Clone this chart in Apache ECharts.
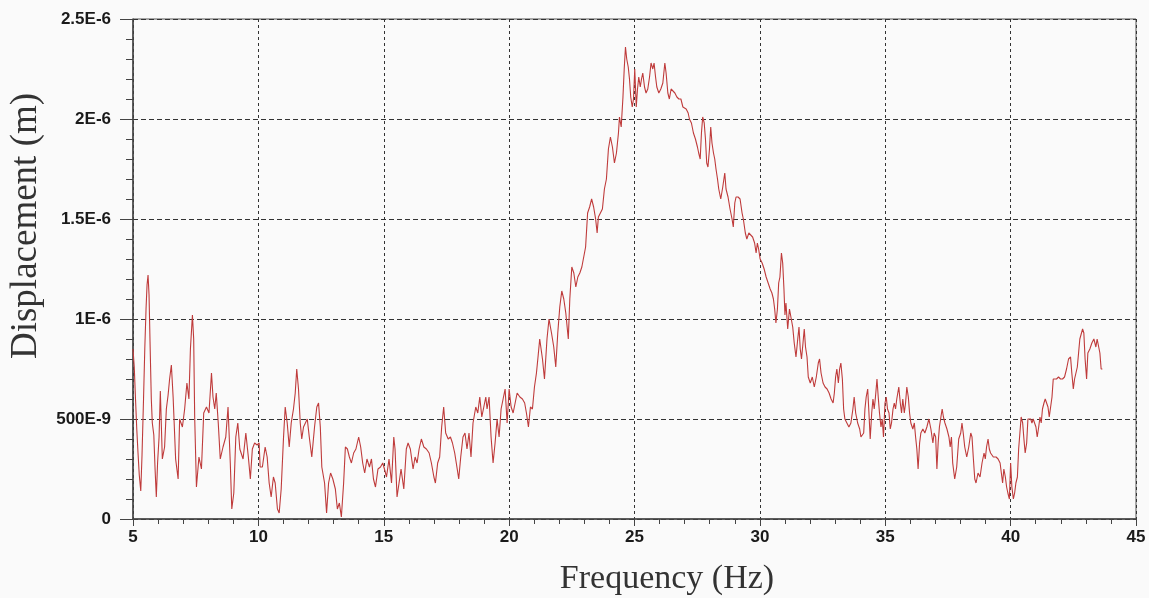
<!DOCTYPE html>
<html>
<head>
<meta charset="utf-8">
<title>Displacement vs Frequency</title>
<script src="https://cdn.jsdelivr.net/npm/echarts@6/dist/echarts.min.js"></script>
<style>
  html, body { margin: 0; padding: 0; background: #fafafa; }
  #main { width: 1149px; height: 598px; }
</style>
</head>
<body>
<div id="main"></div>
<script>
// frequency (Hz)
var freqHz = [
  5.00,5.05,5.10,5.15,5.20,5.25,5.31,5.36,5.42,5.47,
  5.52,5.56,5.60,5.64,5.68,5.73,5.77,5.83,5.88,5.93,
  5.98,6.04,6.09,6.17,6.26,6.33,6.40,6.46,6.53,6.60,
  6.70,6.80,6.86,6.97,7.06,7.15,7.23,7.29,7.37,7.42,
  7.46,7.53,7.63,7.73,7.82,7.93,8.03,8.13,8.19,8.26,
  8.32,8.40,8.48,8.59,8.70,8.79,8.88,8.94,9.02,9.10,
  9.18,9.26,9.39,9.50,9.60,9.68,9.76,9.85,9.95,10.03,
  10.07,10.16,10.27,10.35,10.43,10.51,10.60,10.67,10.76,10.83,
  10.91,11.00,11.07,11.15,11.23,11.31,11.40,11.47,11.53,11.60,
  11.67,11.73,11.80,11.87,11.95,12.03,12.13,12.24,12.33,12.40,
  12.47,12.53,12.64,12.72,12.80,12.88,12.97,13.07,13.15,13.23,
  13.31,13.40,13.47,13.55,13.63,13.71,13.80,13.89,14.00,14.08,
  14.16,14.24,14.33,14.43,14.51,14.59,14.67,14.77,14.87,14.96,
  15.05,15.11,15.21,15.31,15.40,15.45,15.53,15.61,15.69,15.80,
  15.90,15.97,16.06,16.17,16.25,16.33,16.41,16.50,16.60,16.70,
  16.81,16.90,17.00,17.06,17.15,17.23,17.31,17.39,17.47,17.57,
  17.66,17.74,17.83,17.93,17.99,18.07,18.16,18.24,18.32,18.40,
  18.48,18.56,18.67,18.75,18.83,18.91,18.99,19.07,19.12,19.20,
  19.28,19.36,19.44,19.52,19.60,19.68,19.76,19.84,19.92,20.00,
  20.08,20.16,20.24,20.32,20.43,20.53,20.62,20.69,20.77,20.85,
  20.93,21.01,21.09,21.16,21.22,21.33,21.41,21.51,21.59,21.69,
  21.78,21.86,21.94,22.02,22.10,22.18,22.26,22.36,22.42,22.50,
  22.58,22.66,22.74,22.82,22.90,22.97,23.05,23.13,23.21,23.29,
  23.37,23.45,23.51,23.56,23.64,23.72,23.80,23.88,23.96,24.04,
  24.12,24.20,24.28,24.36,24.40,24.47,24.54,24.59,24.64,24.69,
  24.75,24.80,24.85,24.91,24.96,25.01,25.07,25.12,25.17,25.23,
  25.28,25.33,25.40,25.46,25.53,25.60,25.66,25.73,25.78,25.84,
  25.89,25.97,26.05,26.13,26.21,26.26,26.33,26.39,26.46,26.53,
  26.61,26.69,26.77,26.85,26.93,26.99,27.06,27.14,27.19,27.27,
  27.35,27.43,27.51,27.56,27.62,27.67,27.72,27.78,27.83,27.88,
  27.93,27.99,28.04,28.09,28.15,28.20,28.25,28.31,28.36,28.44,
  28.52,28.60,28.65,28.73,28.81,28.89,28.94,29.00,29.05,29.13,
  29.21,29.29,29.34,29.42,29.48,29.56,29.63,29.71,29.79,29.85,
  29.90,29.95,30.01,30.09,30.17,30.25,30.33,30.41,30.48,30.54,
  30.59,30.64,30.70,30.75,30.80,30.86,30.91,30.96,31.00,31.04,
  31.11,31.18,31.24,31.31,31.37,31.44,31.51,31.56,31.61,31.66,
  31.72,31.77,31.82,31.88,31.93,32.01,32.09,32.17,32.25,32.33,
  32.38,32.44,32.52,32.60,32.68,32.76,32.84,32.92,32.97,33.02,
  33.07,33.13,33.18,33.23,33.29,33.34,33.39,33.47,33.55,33.63,
  33.71,33.76,33.82,33.90,33.98,34.03,34.08,34.14,34.19,34.24,
  34.30,34.35,34.40,34.46,34.51,34.56,34.61,34.67,34.72,34.77,
  34.83,34.88,34.93,34.99,35.04,35.09,35.15,35.20,35.25,35.31,
  35.36,35.41,35.46,35.54,35.60,35.65,35.70,35.76,35.81,35.86,
  35.92,35.97,36.02,36.10,36.16,36.21,36.26,36.31,36.37,36.42,
  36.50,36.58,36.66,36.74,36.82,36.90,36.95,37.01,37.06,37.11,
  37.16,37.22,37.27,37.32,37.38,37.46,37.54,37.59,37.64,37.69,
  37.77,37.85,37.93,38.01,38.06,38.11,38.17,38.25,38.33,38.41,
  38.46,38.51,38.57,38.62,38.70,38.78,38.86,38.94,38.99,39.04,
  39.10,39.15,39.20,39.31,39.42,39.50,39.58,39.63,39.68,39.73,
  39.79,39.84,39.89,39.95,40.00,40.05,40.11,40.16,40.21,40.27,
  40.32,40.37,40.42,40.48,40.53,40.58,40.64,40.69,40.74,40.80,
  40.85,40.90,40.96,41.01,41.06,41.12,41.17,41.22,41.27,41.33,
  41.38,41.43,41.49,41.54,41.59,41.65,41.70,41.75,41.83,41.91,
  41.99,42.07,42.15,42.23,42.31,42.39,42.44,42.50,42.55,42.60,
  42.66,42.71,42.76,42.82,42.87,42.92,42.97,43.03,43.08,43.16,
  43.24,43.32,43.40,43.45,43.51,43.56,43.61,43.66
];

// displacement in micrometres (x1E-6 m), same order as freqHz
var dispUm = [
  0.85,0.76,0.60,0.45,0.33,0.22,0.14,0.32,0.60,0.85,
  1.05,1.17,1.22,1.12,0.88,0.60,0.48,0.42,0.25,0.11,
  0.28,0.41,0.64,0.30,0.36,0.55,0.62,0.70,0.77,0.61,
  0.30,0.20,0.50,0.46,0.55,0.68,0.60,0.85,1.02,0.90,
  0.51,0.16,0.31,0.25,0.53,0.56,0.53,0.73,0.61,0.55,
  0.63,0.48,0.30,0.36,0.41,0.56,0.28,0.05,0.13,0.41,
  0.48,0.35,0.30,0.43,0.31,0.20,0.35,0.38,0.37,0.38,
  0.26,0.26,0.36,0.31,0.18,0.11,0.21,0.18,0.05,0.03,
  0.15,0.40,0.56,0.48,0.36,0.48,0.55,0.63,0.75,0.65,
  0.48,0.40,0.46,0.45,0.50,0.41,0.31,0.46,0.56,0.58,
  0.46,0.26,0.18,0.03,0.18,0.23,0.20,0.15,0.05,0.08,
  0.01,0.18,0.36,0.35,0.31,0.28,0.33,0.35,0.41,0.36,
  0.28,0.23,0.30,0.26,0.30,0.20,0.16,0.25,0.26,0.28,
  0.24,0.21,0.30,0.18,0.41,0.35,0.11,0.18,0.25,0.15,
  0.35,0.38,0.35,0.25,0.31,0.28,0.35,0.40,0.36,0.35,
  0.33,0.28,0.21,0.18,0.28,0.31,0.46,0.56,0.43,0.40,
  0.41,0.38,0.33,0.25,0.20,0.31,0.41,0.43,0.35,0.43,
  0.31,0.48,0.56,0.53,0.61,0.51,0.56,0.61,0.55,0.61,
  0.41,0.28,0.38,0.50,0.41,0.55,0.60,0.65,0.48,0.65,
  0.56,0.53,0.58,0.63,0.61,0.60,0.58,0.53,0.46,0.56,
  0.55,0.66,0.73,0.82,0.90,0.80,0.70,0.90,1.00,0.93,
  0.86,0.76,0.93,1.06,1.14,1.10,1.03,0.90,1.10,1.26,
  1.23,1.16,1.21,1.23,1.26,1.26,1.36,1.53,1.56,1.60,
  1.56,1.50,1.43,1.51,1.53,1.55,1.65,1.70,1.85,1.91,
  1.86,1.78,1.83,1.93,2.01,1.96,2.11,2.25,2.36,2.30,
  2.26,2.20,2.11,2.06,2.10,2.25,2.06,2.15,2.21,2.16,
  2.20,2.23,2.16,2.13,2.15,2.21,2.28,2.25,2.28,2.21,
  2.16,2.13,2.15,2.18,2.28,2.23,2.13,2.10,2.15,2.15,
  2.13,2.11,2.10,2.10,2.06,2.05,2.05,2.03,2.00,1.98,
  1.93,1.90,1.86,1.83,1.80,1.93,2.01,1.98,1.90,1.78,
  1.76,1.85,1.96,1.88,1.83,1.80,1.75,1.70,1.65,1.60,
  1.66,1.73,1.65,1.61,1.55,1.50,1.46,1.58,1.61,1.61,
  1.60,1.53,1.50,1.43,1.40,1.43,1.43,1.41,1.38,1.33,
  1.38,1.35,1.30,1.28,1.25,1.21,1.18,1.15,1.13,1.10,
  1.05,0.98,1.05,1.18,1.21,1.33,1.28,1.15,1.02,1.08,
  0.95,1.05,1.06,0.96,0.88,0.81,0.90,0.96,0.85,0.80,
  0.88,0.95,0.86,0.81,0.71,0.68,0.71,0.66,0.71,0.78,
  0.80,0.73,0.68,0.66,0.65,0.63,0.60,0.58,0.63,0.71,
  0.75,0.68,0.75,0.78,0.70,0.55,0.50,0.48,0.46,0.48,
  0.55,0.61,0.53,0.48,0.45,0.41,0.40,0.43,0.55,0.61,
  0.65,0.53,0.40,0.53,0.60,0.55,0.61,0.70,0.61,0.53,
  0.46,0.50,0.41,0.58,0.61,0.55,0.53,0.45,0.48,0.55,
  0.58,0.55,0.60,0.66,0.58,0.53,0.60,0.53,0.58,0.66,
  0.61,0.53,0.48,0.45,0.48,0.41,0.35,0.25,0.38,0.43,
  0.45,0.43,0.46,0.50,0.45,0.38,0.43,0.41,0.25,0.38,
  0.46,0.51,0.55,0.51,0.48,0.45,0.41,0.36,0.41,0.28,
  0.20,0.26,0.40,0.43,0.48,0.43,0.36,0.31,0.36,0.43,
  0.41,0.31,0.20,0.18,0.23,0.21,0.28,0.33,0.30,0.36,
  0.40,0.35,0.33,0.31,0.31,0.30,0.28,0.23,0.18,0.25,
  0.21,0.16,0.13,0.10,0.28,0.16,0.10,0.13,0.18,0.21,
  0.35,0.43,0.51,0.48,0.40,0.33,0.38,0.50,0.51,0.50,
  0.48,0.50,0.51,0.46,0.41,0.46,0.51,0.48,0.55,0.58,
  0.60,0.61,0.56,0.51,0.51,0.61,0.70,0.71,0.70,0.71,
  0.70,0.70,0.71,0.75,0.80,0.81,0.73,0.65,0.70,0.71,
  0.76,0.83,0.90,0.91,0.95,0.93,0.80,0.70,0.83,0.85,
  0.88,0.90,0.86,0.90,0.91,0.83,0.75,0.75
];

// y tick labels as printed, one per 0.5 um step
var yTickLabels = ['0', '500E-9', '1E-6', '1.5E-6', '2E-6', '2.5E-6'];

var points = freqHz.map(function (f, i) { return [f, dispUm[i]]; });

var myChart = echarts.init(document.getElementById('main'));

var tickFont = {
  color: '#1a1a1a',
  fontFamily: 'Liberation Sans, Arial, sans-serif',
  fontWeight: 'bold',
  fontSize: 17
};
var titleFont = 'Liberation Serif, "DejaVu Serif", serif';

option = {
  backgroundColor: '#fafafa',
  animation: false,
  grid: {
    left: 133,
    top: 19,
    right: 13,
    bottom: 79,
    show: true,
    borderColor: '#555',
    borderWidth: 1,
    backgroundColor: 'transparent'
  },
  xAxis: {
    type: 'value',
    min: 5,
    max: 45,
    interval: 5,
    axisLine: { show: true, lineStyle: { color: '#444', width: 1.5 } },
    axisTick: { show: true, length: 7, lineStyle: { color: '#444' } },
    minorTick: { show: true, splitNumber: 5, length: 5, lineStyle: { color: '#444' } },
    axisLabel: Object.assign({ margin: 10 }, tickFont),
    splitLine: { show: true, lineStyle: { color: '#333', type: [3, 3], width: 1 } }
  },
  yAxis: {
    type: 'value',
    min: 0,
    max: 2.5,
    interval: 0.5,
    axisLine: { show: true, lineStyle: { color: '#444', width: 1.5 } },
    axisTick: { show: true, length: 13, lineStyle: { color: '#444' } },
    minorTick: { show: true, splitNumber: 5, length: 7, lineStyle: { color: '#444' } },
    axisLabel: Object.assign({
      margin: 22,
      formatter: function (v) { return yTickLabels[Math.round(v / 0.5)]; }
    }, tickFont),
    splitLine: { show: true, lineStyle: { color: '#333', type: [5, 3], width: 1 } }
  },
  graphic: [
    {
      type: 'text',
      x: 26,
      y: 226,
      rotation: Math.PI / 2,
      style: {
        text: 'Displacement (m)',
        fill: '#333',
        font: '37px ' + titleFont,
        textAlign: 'center',
        textVerticalAlign: 'middle'
      }
    },
    {
      type: 'text',
      x: 667,
      y: 579,
      style: {
        text: 'Frequency (Hz)',
        fill: '#333',
        font: '34px ' + titleFont,
        textAlign: 'center',
        textVerticalAlign: 'middle'
      }
    }
  ],
  series: [{
    type: 'line',
    data: points,
    showSymbol: false,
    lineStyle: { color: '#bf3b3b', width: 1.1 },
    z: 3
  }]
};

myChart.setOption(option);
</script>
</body>
</html>
